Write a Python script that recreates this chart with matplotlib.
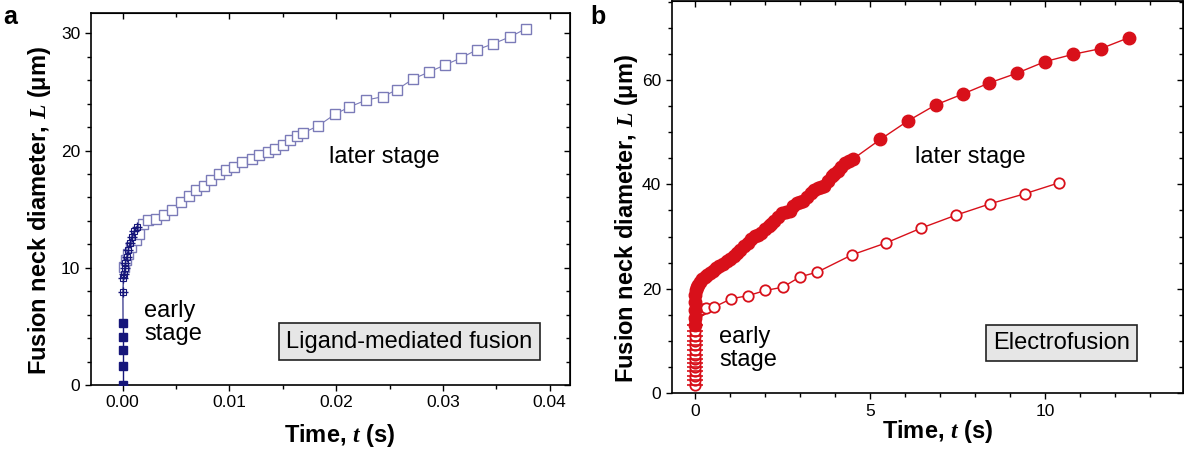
import matplotlib
matplotlib.use("Agg")
import matplotlib.pyplot as plt
from matplotlib.ticker import MultipleLocator

plt.rcParams['font.family'] = ['Liberation Sans', 'DejaVu Sans']
plt.rcParams['mathtext.fontset'] = 'custom'
plt.rcParams['mathtext.it'] = 'Liberation Serif:italic:bold'
plt.rcParams['mathtext.rm'] = 'Liberation Sans:bold'

# ---- panel a: ligand-mediated fusion ----
a_fill_t = [0.00003, 0.00003, 0.00003, 0.00003, 0.00003]
a_fill_L = [0.0, 1.6, 3.0, 4.1, 5.3]

a_cross_t = [0.00002, 0.00006, 0.00012, 0.00019, 0.00025, 0.00037, 0.00052,
             0.00068, 0.00087, 0.00109, 0.00131]
a_cross_L = [7.9, 9.1, 9.5, 10.0, 10.4, 10.9, 11.5, 12.1, 12.6, 13.1, 13.5]

a_late_t = [0.0001, 0.0003, 0.00046, 0.0008, 0.0012, 0.0015, 0.0019, 0.0024,
            0.0031, 0.0039, 0.0046, 0.0055, 0.0062, 0.0069, 0.0076, 0.0083,
            0.0090, 0.0097, 0.0104, 0.0112, 0.0121, 0.0128, 0.0136, 0.0143,
            0.0150, 0.0157, 0.0163, 0.0169, 0.0183, 0.0199, 0.0212, 0.0228,
            0.0244, 0.0257, 0.0272, 0.0287, 0.0302, 0.0317, 0.0332, 0.0347,
            0.0363, 0.0378]
a_late_L = [10.1, 10.7, 11.2, 11.8, 12.4, 12.9, 13.7, 14.1, 14.2, 14.5, 14.9,
            15.6, 16.1, 16.6, 17.0, 17.5, 18.0, 18.3, 18.6, 19.0, 19.3, 19.6,
            19.9, 20.1, 20.5, 20.9, 21.2, 21.5, 22.1, 23.1, 23.7, 24.3, 24.6,
            25.2, 26.1, 26.7, 27.3, 27.9, 28.6, 29.1, 29.7, 30.4]

# ---- panel b: electrofusion ----
b_fill_t = [0.0, 0.0, 0.0, 0.0, 0.01, 0.02, 0.05, 0.08, 0.13, 0.19, 0.27, 0.35,
            0.43, 0.51, 0.6, 0.68, 0.79, 0.9, 1.0, 1.1, 1.19, 1.28, 1.39, 1.5,
            1.61, 1.72, 1.8, 1.88, 1.99, 2.1, 2.18, 2.26, 2.37, 2.48, 2.59, 2.7,
            2.81, 2.92, 3.0, 3.08, 3.19, 3.3, 3.41, 3.52, 3.6, 3.68, 3.79, 3.9,
            3.98, 4.07, 4.18, 4.28, 4.39, 4.5, 5.29, 6.07, 6.87, 7.65, 8.4, 9.2,
            10.0, 10.8, 11.6, 12.4]
b_fill_L = [13.0, 14.5, 16.0, 17.5, 18.8, 19.8, 20.4, 20.8, 21.3, 21.8, 22.3,
            22.7, 23.1, 23.4, 23.9, 24.3, 24.8, 25.3, 25.8, 26.2, 26.9, 27.5,
            28.2, 28.8, 29.5, 30.1, 30.4, 30.7, 31.4, 32.0, 32.5, 32.9, 33.8,
            34.5, 34.7, 34.9, 35.8, 36.5, 36.6, 36.8, 37.6, 38.4, 38.9, 39.3,
            39.5, 39.7, 40.7, 41.6, 42.0, 42.5, 43.3, 44.1, 44.4, 44.8, 48.6,
            52.1, 55.2, 57.3, 59.4, 61.3, 63.5, 64.9, 66.0, 68.1]

b_open_t = [0.0, 0.0, 0.0, 0.0, 0.0, 0.0, 0.0, 0.0, 0.0, 0.0, 0.0, 0.0, 0.0,
            0.0, 0.01, 0.03, 0.08, 0.13, 0.2, 0.3, 0.54, 1.03, 1.52, 2.01, 2.5,
            3.0, 3.49, 4.48, 5.46, 6.45, 7.45, 8.44, 9.42, 10.4]
b_open_L = [1.5, 2.5, 3.3, 4.2, 5.0, 5.8, 6.6, 7.4, 8.3, 9.2, 10.1, 11.0, 12.0,
            13.0, 14.0, 15.0, 15.7, 16.0, 16.2, 16.3, 16.5, 18.1, 18.7, 19.7,
            20.3, 22.3, 23.2, 26.5, 28.8, 31.6, 34.1, 36.3, 38.2, 40.3]
b_early_n = 14  # open points that belong to the early stage

navy = '#16167a'
slate = '#7b7bb8'
red = '#d8101a'

fig = plt.figure(figsize=(11.84, 4.55), dpi=100)
ax1 = fig.add_axes([0.0766, 0.1538, 0.4048, 0.8169])
ax2 = fig.add_axes([0.5673, 0.1356, 0.4318, 0.8633])

# panel a
ax1.plot(a_late_t, a_late_L, color=slate, lw=0.8, marker='s', ms=7.5,
         mfc='white', mec=slate, mew=1.0, zorder=2)
ax1.plot([a_fill_t[-1]] + a_cross_t, [a_fill_L[-1]] + a_cross_L, color=navy,
         lw=0.8, zorder=3)
ax1.plot(a_cross_t, a_cross_L, ls='none', marker='s', ms=5, mfc='none',
         mec=navy, mew=0.8, zorder=3)
ax1.plot(a_cross_t, a_cross_L, ls='none', marker='+', ms=7, mec=navy,
         mew=1.0, zorder=3)
ax1.plot(a_fill_t, a_fill_L, color=navy, lw=1.0, marker='s', ms=6,
         mfc=navy, mec=navy, zorder=4)

ax1.set_xlim(-0.0030, 0.0419)
ax1.set_ylim(0, 31.7)
ax1.xaxis.set_major_locator(MultipleLocator(0.01))
ax1.xaxis.set_minor_locator(MultipleLocator(0.005))
ax1.yaxis.set_major_locator(MultipleLocator(10))
ax1.yaxis.set_minor_locator(MultipleLocator(2))
ax1.xaxis.set_major_formatter(matplotlib.ticker.FormatStrFormatter('%.2f'))

ax1.text(0.497, 0.613, 'later stage', transform=ax1.transAxes, fontsize=17,
         va='center', ha='left')
ax1.text(0.111, 0.168, 'early\nstage', transform=ax1.transAxes, fontsize=17,
         va='center', ha='left', linespacing=1.05)
ax1.text(0.665, 0.117, 'Ligand-mediated fusion', transform=ax1.transAxes,
         fontsize=17, va='center', ha='center',
         bbox=dict(boxstyle='square,pad=0.3', fc='#e6e6e6', ec='#222222', lw=1.2))

# panel b
ax2.plot(b_fill_t, b_fill_L, color=red, lw=1.0, marker='o', ms=9,
         mfc=red, mec=red, zorder=3)
ax2.plot(b_open_t, b_open_L, color=red, lw=1.0, marker='o', ms=7.5,
         mfc='white', mec=red, mew=1.3, zorder=2)
ax2.plot(b_open_t[:b_early_n], b_open_L[:b_early_n], ls='none', marker='_',
         ms=11, mec=red, mew=1.2, zorder=2)

ax2.set_xlim(-0.67, 13.94)
ax2.set_ylim(0, 75.2)
ax2.xaxis.set_major_locator(MultipleLocator(5))
ax2.xaxis.set_minor_locator(MultipleLocator(1))
ax2.yaxis.set_major_locator(MultipleLocator(20))
ax2.yaxis.set_minor_locator(MultipleLocator(5))

ax2.text(0.476, 0.602, 'later stage', transform=ax2.transAxes, fontsize=17,
         va='center', ha='left')
ax2.text(0.0935, 0.115, 'early\nstage', transform=ax2.transAxes, fontsize=17,
         va='center', ha='left', linespacing=1.05)
ax2.text(0.763, 0.127, 'Electrofusion', transform=ax2.transAxes,
         fontsize=17, va='center', ha='center',
         bbox=dict(boxstyle='square,pad=0.3', fc='#e6e6e6', ec='#222222', lw=1.2))

for ax, ylx, yly, xlx, xly in [(ax1, -0.106, 0.47, 0.52, -0.1345),
                               (ax2, -0.089, 0.446, 0.521, -0.0985)]:
    for sp in ax.spines.values():
        sp.set_linewidth(1.2)
    ax.tick_params(which='both', direction='out', labelsize=12.5, width=1.0,
                   pad=3)
    ax.tick_params(which='major', length=4.5)
    ax.tick_params(which='minor', length=3)
    ax.set_ylabel('Fusion neck diameter, $L$ (μm)', fontsize=17,
                  fontweight='bold', va='center')
    ax.yaxis.set_label_coords(ylx, yly)
    ax.set_xlabel('Time, $t$ (s)', fontsize=17, fontweight='bold', va='center')
    ax.xaxis.set_label_coords(xlx, xly)
    # mirrored ticks on top and right, pointing in
    top = ax.secondary_xaxis('top')
    top.xaxis.set_major_locator(ax.xaxis.get_major_locator())
    top.xaxis.set_minor_locator(ax.xaxis.get_minor_locator())
    top.tick_params(which='both', direction='in', labeltop=False, width=1.0)
    top.tick_params(which='major', length=4.5)
    top.tick_params(which='minor', length=3)
    right = ax.secondary_yaxis('right')
    right.yaxis.set_major_locator(ax.yaxis.get_major_locator())
    right.yaxis.set_minor_locator(ax.yaxis.get_minor_locator())
    right.tick_params(which='both', direction='in', labelright=False, width=1.0)
    right.tick_params(which='major', length=4.5)
    right.tick_params(which='minor', length=3)

fig.text(0.003, 0.99, 'a', fontsize=18, fontweight='bold', va='top')
fig.text(0.499, 0.99, 'b', fontsize=18, fontweight='bold', va='top')

fig.savefig('out.png', dpi=100)
